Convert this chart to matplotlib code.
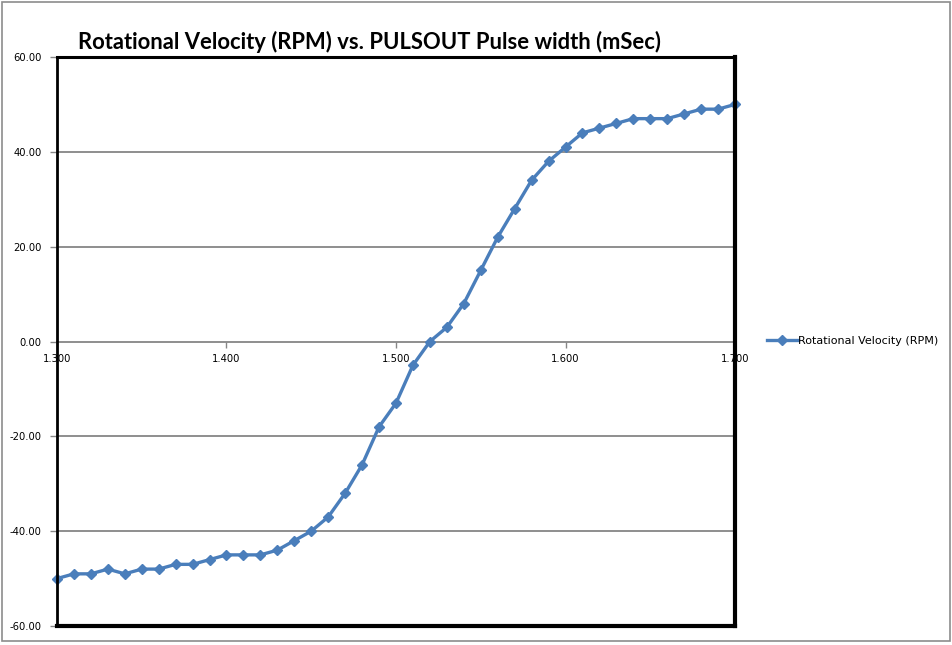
"""Rotational velocity vs PULSOUT pulse width, Excel style line chart"""

import matplotlib
matplotlib.use("Agg")
import matplotlib.pyplot as plt
from matplotlib.patches import Rectangle
from matplotlib.lines import Line2D
from matplotlib.ticker import FormatStrFormatter


pulse_width = [1.30, 1.31, 1.32, 1.33, 1.34, 1.35, 1.36, 1.37, 1.38, 1.39,
               1.40, 1.41, 1.42, 1.43, 1.44, 1.45, 1.46, 1.47, 1.48, 1.49,
               1.50, 1.51, 1.52, 1.53, 1.54, 1.55, 1.56, 1.57, 1.58, 1.59,
               1.60, 1.61, 1.62, 1.63, 1.64, 1.65, 1.66, 1.67, 1.68, 1.69,
               1.70]
rpm = [-50, -49, -49, -48, -49, -48, -48, -47, -47, -46,
       -45, -45, -45, -44, -42, -40, -37, -32, -26, -18,
       -13, -5, 0, 3, 8, 15, 22, 28, 34, 38,
       41, 44, 45, 46, 47, 47, 47, 48, 49, 49,
       50]
x_ticks = [1.3, 1.4, 1.5, 1.6, 1.7]
y_ticks = [-60, -40, -20, 0, 20, 40, 60]

title = "Rotational Velocity (RPM) vs. PULSOUT Pulse width (mSec)"
series_name = "Rotational Velocity (RPM)"
blue = "#4a7ebb"


fig = plt.figure(figsize=(9.53, 6.45), dpi=100)

# outer chart border
fig.patches.append(Rectangle((0.002, 0.006), 0.995, 0.991, transform=fig.transFigure,
                             fill=False, edgecolor="#8c8c8c", linewidth=1.2))

ax = fig.add_axes([57 / 953, 1 - 626 / 645, (735 - 57) / 953, (626 - 57) / 645])

ax.plot(pulse_width, rpm, color=blue, linewidth=2.4, marker="D", markersize=5.5,
        markerfacecolor=blue, markeredgecolor=blue, zorder=3, clip_on=False)

ax.set_xlim(1.3, 1.7)
ax.set_ylim(-60, 60)
ax.set_xticks(x_ticks)
ax.set_yticks(y_ticks)
ax.xaxis.set_major_formatter(FormatStrFormatter("%.3f"))
ax.yaxis.set_major_formatter(FormatStrFormatter("%.2f"))

# horizontal gridlines (not at the frame edges)
for y in y_ticks[1:-1]:
	if y != 0:
		ax.axhline(y, color="#868686", linewidth=1.3, zorder=1)

# x axis sits on the zero line
ax.spines["bottom"].set_position(("data", 0))
ax.spines["bottom"].set_color("#868686")
ax.spines["bottom"].set_linewidth(1.3)
ax.spines["top"].set_visible(False)
ax.spines["right"].set_visible(False)
ax.spines["left"].set_visible(False)

ax.tick_params(axis="x", direction="out", length=4, width=1, color="#868686",
               labelsize=7.2, pad=5)
ax.tick_params(axis="y", direction="out", length=5, width=1, color="#868686",
               labelsize=7.2, pad=6)

# thick black plot-area frame
frame = dict(transform=ax.transAxes, color="black", clip_on=False,
             solid_capstyle="projecting", zorder=4)
ax.add_line(Line2D([0, 1], [1, 1], linewidth=2.2, **frame))
ax.add_line(Line2D([0, 0], [0, 1], linewidth=2.0, **frame))
ax.add_line(Line2D([1, 1], [0, 1], linewidth=3.0, **frame))
ax.add_line(Line2D([0, 1], [0, 0], linewidth=3.0, **frame))

fig.text(78 / 953, 1 - 42 / 645, title, fontsize=15.8, fontweight="bold",
         family=["Lato", "DejaVu Sans"], ha="left", va="center")

# legend
handle = Line2D([], [], color=blue, linewidth=2.4, marker="D", markersize=5.5)
fig.legend([handle], [series_name], loc="center left",
           bbox_to_anchor=(761 / 953, 1 - 341 / 645), frameon=False,
           fontsize=8, handlelength=2.8, handletextpad=0.0, borderpad=0)

plt.savefig("out.png", dpi=100)
